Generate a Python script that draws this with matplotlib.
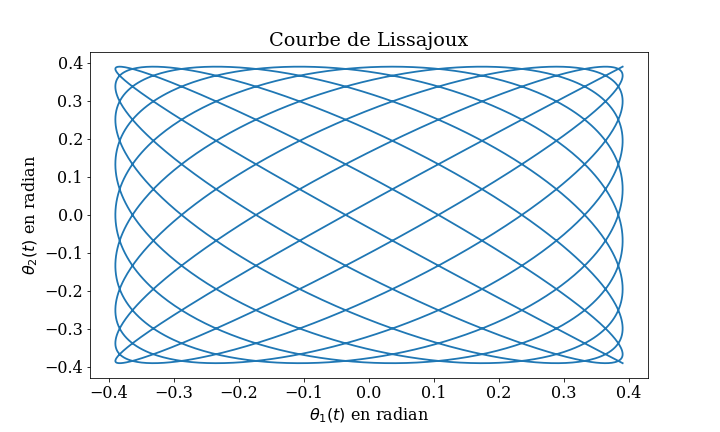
import numpy as np
import matplotlib.pyplot as plt

plt.rcParams['font.family'] = 'serif'
plt.rcParams['font.size'] = 16

# Paramètres
theta0 = 0.39          # amplitude [rad]
n1 = 18                # oscillations de theta1
n2 = 17                # oscillations de theta2
t_fin = np.pi
nb_points = 4000

t = np.linspace(0, t_fin, nb_points)
theta1 = theta0 * np.cos(n1 * t)
theta2 = theta0 * np.cos(n2 * t)

fig, ax = plt.subplots(figsize=(10, 6), dpi=72)
fig.subplots_adjust(left=0.125, right=0.9, top=0.88, bottom=0.125)
ax.plot(theta1, theta2, linewidth=1.8)
ax.set_title("Courbe de Lissajoux")
ax.set_xlabel(r"$\theta_1(t)$ en radian")
ax.set_ylabel(r"$\theta_2(t)$ en radian")
fig.savefig("out.png")
